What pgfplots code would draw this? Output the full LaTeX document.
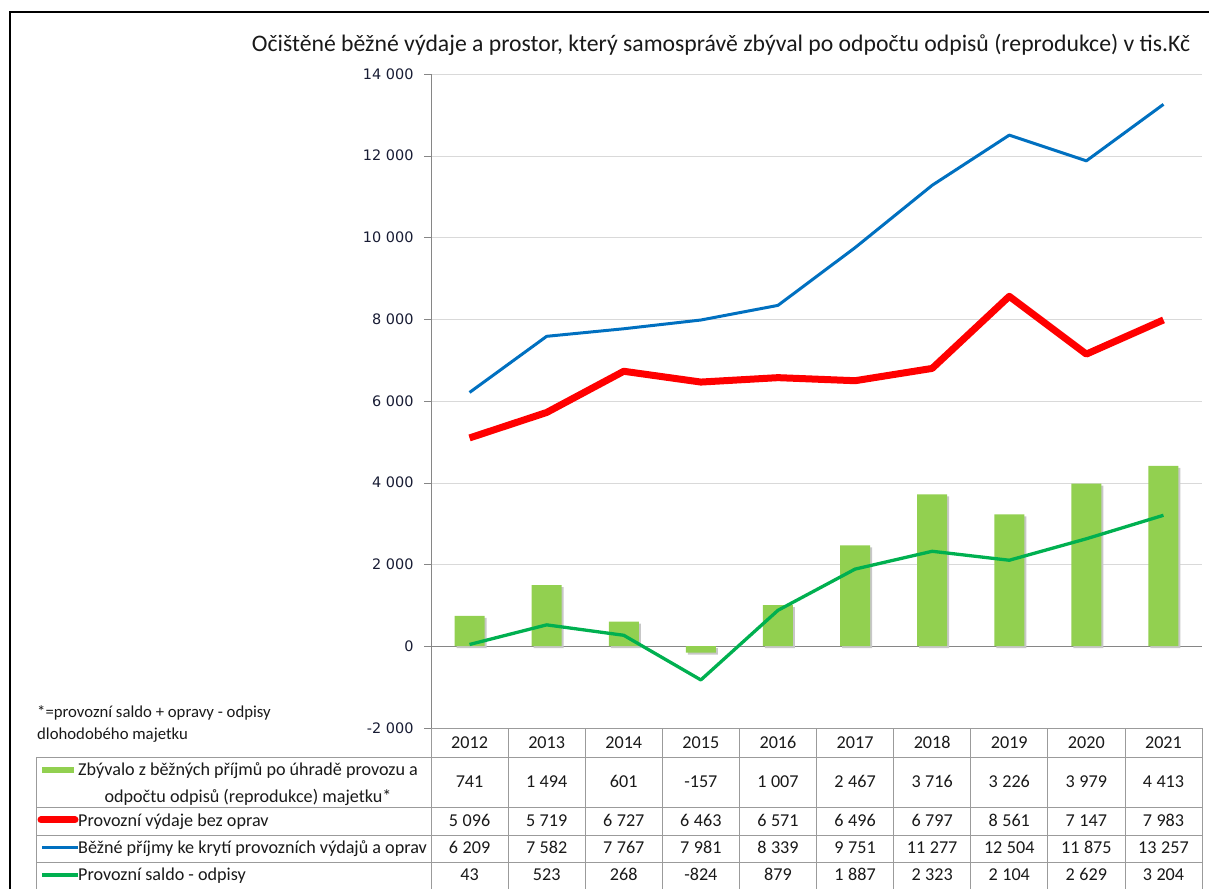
\documentclass[border=0pt]{standalone}
\usepackage{pgfplots}
\pgfplotsset{compat=1.18}
\usepackage{pgfplotstable}
\usepackage{fontspec}
\setmainfont{Carlito}
\newfontfamily\dejavu{DejaVu Sans}

\definecolor{bargreen}{RGB}{146,208,80}
\definecolor{linered}{RGB}{255,0,0}
\definecolor{lineblue}{RGB}{0,112,192}
\definecolor{linegreen}{RGB}{0,176,80}
\definecolor{gridgray}{RGB}{217,217,217}
\definecolor{axisgray}{RGB}{134,134,134}
\definecolor{tablegray}{RGB}{155,155,155}
\definecolor{ticknavy}{RGB}{24,28,52}
\definecolor{txt}{RGB}{25,25,25}

\pgfplotstableread{
year bar red blue green
2012 741 5096 6209 43
2013 1494 5719 7582 523
2014 601 6727 7767 268
2015 -157 6463 7981 -824
2016 1007 6571 8339 879
2017 2467 6496 9751 1887
2018 3716 6797 11277 2323
2019 3226 8561 12504 2104
2020 3979 7147 11875 2629
2021 4413 7983 13257 3204
}\datatable

\begin{document}
\begin{tikzpicture}[x=1bp,y=1bp]
\useasboundingbox (0,0) rectangle (1209,889);
% outer frame (only left and top edges are inside the picture)
\draw[black,line width=1.5bp] (10,0) -- (10,877) -- (1209,877);

\node[text=txt,font=\fontsize{23.8}{26}\selectfont] at (721,844)
  {Očištěné běžné výdaje a prostor, který samosprávě zbýval po odpočtu odpisů (reprodukce) v tis.Kč};

\begin{axis}[
  at={(431bp,161bp)}, anchor=south west,
  scale only axis, width=771bp, height=654bp,
  xmin=-0.5, xmax=9.5, ymin=-2000, ymax=14000,
  axis x line=none, axis y line*=left,
  axis line style={axisgray,-},
  scaled y ticks=false,
  ytick={-2000,0,...,14000},
  yticklabels={-2 000,0,2 000,4 000,6 000,8 000,10 000,12 000,14 000},
  tick align=outside, major tick length=7bp, tick style={axisgray},
  ymajorgrids, major grid style={gridgray},
  extra y ticks={0}, extra y tick labels={},
  extra y tick style={major grid style={axisgray}},
  yticklabel style={font=\dejavu\fontsize{14.5}{16}\selectfont, text=ticknavy, xshift=-7bp},
  clip=false,
]
\addplot[ybar, bar width=30bp, fill=bargreen, draw=none,
  preaction={fill=black!22, transform canvas={xshift=2bp,yshift=-2bp}}]
  table[x expr=\coordindex, y=bar] {\datatable};
\addplot[linegreen, line width=3.3bp, no marks, line join=round]
  table[x expr=\coordindex, y=green] {\datatable};
\addplot[lineblue, line width=3bp, no marks, line join=round]
  table[x expr=\coordindex, y=blue] {\datatable};
\addplot[linered, line width=7bp, no marks, line join=round]
  table[x expr=\coordindex, y=red] {\datatable};
\end{axis}

% data table
\begin{scope}[tablegray, line width=0.8bp]
\foreach \i in {0,...,10} \draw ({431+77.1*\i},0) -- ({431+77.1*\i},161);
\draw (431,161) -- (1202,161);
\foreach \yy in {132,82,54,27} \draw (36,\yy) -- (1202,\yy);
\draw (36,0) -- (36,132);
\end{scope}

\pgfkeys{/pgf/number format/.cd, assume math mode=true, 1000 sep={\kern0.25em}}
\begin{scope}[font=\fontsize{18.2}{20}\selectfont, text=txt, every node/.append style={inner sep=0pt}]
\foreach \i in {0,...,9} {
  \pgfmathsetmacro\cx{431+77.1*(\i+0.5)}
  \pgfplotstablegetelem{\i}{year}\of\datatable
  \node[anchor=base] at (\cx,140.5) {\pgfplotsretval};
  \pgfplotstablegetelem{\i}{bar}\of\datatable
  \node[anchor=base] at (\cx,101) {\pgfmathprintnumber{\pgfplotsretval}};
  \pgfplotstablegetelem{\i}{red}\of\datatable
  \node[anchor=base] at (\cx,62.5) {\pgfmathprintnumber{\pgfplotsretval}};
  \pgfplotstablegetelem{\i}{blue}\of\datatable
  \node[anchor=base] at (\cx,35) {\pgfmathprintnumber{\pgfplotsretval}};
  \pgfplotstablegetelem{\i}{green}\of\datatable
  \node[anchor=base] at (\cx,8) {\pgfmathprintnumber{\pgfplotsretval}};
}
% legend keys and series names
\fill[bargreen] (42,116) rectangle (74,122);
\node[anchor=base west] at (78,113.5) {Zbývalo z běžných příjmů po úhradě provozu a};
\node[anchor=base] at (248,86.5) {odpočtu odpisů (reprodukce) majetku*};
\draw[linered, line width=7bp, line cap=round] (41,69) -- (75,69);
\node[anchor=base west] at (78,62.5) {Provozní výdaje bez oprav};
\draw[lineblue, line width=3bp] (42,41) -- (78,41);
\node[anchor=base west] at (78,35) {Běžné příjmy ke krytí provozních výdajů a oprav};
\draw[linegreen, line width=3.3bp] (42,14) -- (78,14);
\node[anchor=base west] at (78,8) {Provozní saldo - odpisy};
\end{scope}

\node[anchor=west, inner sep=0pt, text=txt, font=\fontsize{16.8}{18}\selectfont] at (37,176)
  {*=provozní saldo + opravy - odpisy};
\node[anchor=west, inner sep=0pt, text=txt, font=\fontsize{16.8}{18}\selectfont] at (37,154)
  {dlohodobého majetku};
\end{tikzpicture}
\end{document}
